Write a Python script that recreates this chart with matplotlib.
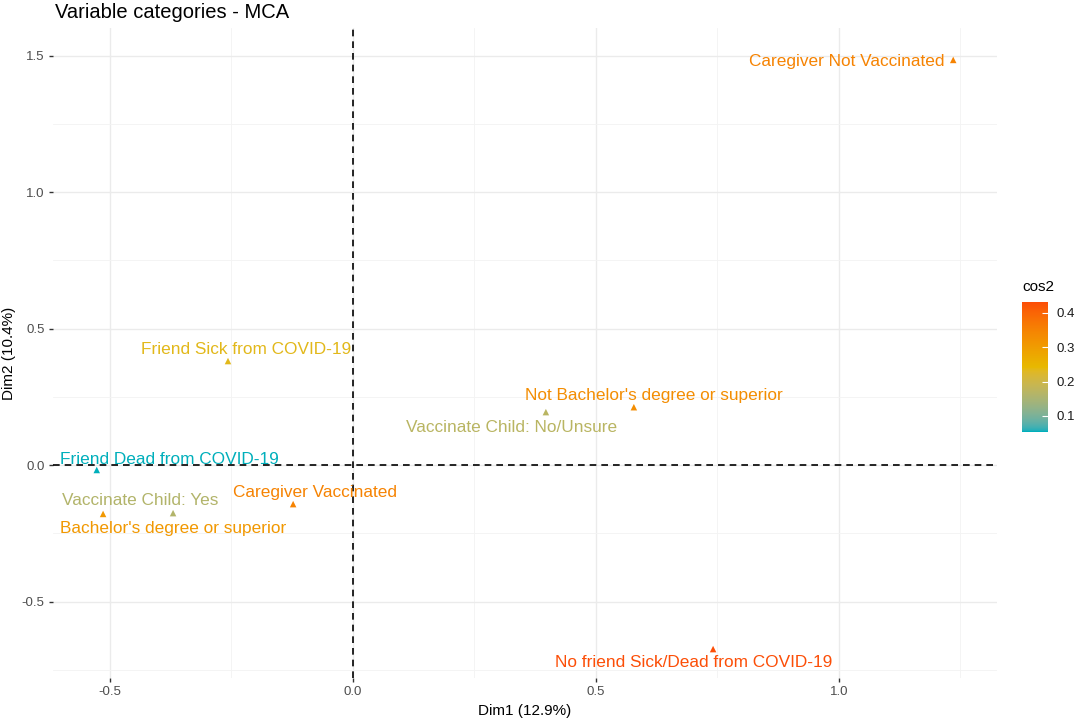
import numpy as np
import matplotlib.pyplot as plt
from matplotlib.colors import ListedColormap, Normalize, to_rgb
from matplotlib.ticker import MultipleLocator

plt.rcParams['font.family'] = ['Liberation Sans', 'DejaVu Sans']

# MCA variable categories
labels = ["Caregiver Not Vaccinated", "Friend Sick from COVID-19",
          "Not Bachelor's degree or superior", "Vaccinate Child: No/Unsure",
          "Friend Dead from COVID-19", "Vaccinate Child: Yes",
          "Bachelor's degree or superior", "Caregiver Vaccinated",
          "No friend Sick/Dead from COVID-19"]
dim1 = [1.235, -0.257, 0.578, 0.397, -0.527, -0.370, -0.514, -0.123, 0.741]
dim2 = [1.484, 0.381, 0.212, 0.194, -0.018, -0.176, -0.179, -0.143, -0.674]
cos2 = [0.35, 0.235, 0.33, 0.17, 0.053, 0.16, 0.31, 0.35, 0.432]

# repelled label offsets (dx, dy) from each point
label_dx = [-0.219, 0.037, 0.041, -0.070, 0.150, -0.068, 0.144, 0.045, -0.039]
label_dy = [-0.004, 0.044, 0.044, -0.055, 0.040, 0.048, -0.052, 0.044, -0.048]

gradient_cols = ['#00AFBB', '#E7B800', '#FC4E07']


# ggplot-like gradient: interpolate in Lab space
WHITE = np.array([0.95047, 1.0, 1.08883])
M = np.array([[0.4124, 0.3576, 0.1805],
              [0.2126, 0.7152, 0.0722],
              [0.0193, 0.1192, 0.9505]])


def to_lab(rgb):
    c = np.array(rgb)
    lin = np.where(c <= 0.04045, c / 12.92, ((c + 0.055) / 1.055) ** 2.4)
    xyz = M @ lin / WHITE
    f = np.where(xyz > 0.008856, np.cbrt(xyz), 7.787 * xyz + 16 / 116)
    return np.array([116 * f[1] - 16, 500 * (f[0] - f[1]), 200 * (f[1] - f[2])])


def from_lab(lab):
    fy = (lab[0] + 16) / 116
    f = np.array([fy + lab[1] / 500, fy, fy - lab[2] / 200])
    xyz = np.where(f ** 3 > 0.008856, f ** 3, (f - 16 / 116) / 7.787) * WHITE
    lin = np.linalg.solve(M, xyz)
    c = np.where(lin <= 0.0031308, 12.92 * lin, 1.055 * np.clip(lin, 0, None) ** (1 / 2.4) - 0.055)
    return np.clip(c, 0, 1)


labs = [to_lab(to_rgb(c)) for c in gradient_cols]
colors = []
for t in np.linspace(0, 1, 256):
    seg = min(int(t * 2), 1)
    u = t * 2 - seg
    colors.append(from_lab(labs[seg] * (1 - u) + labs[seg + 1] * u))
cmap = ListedColormap(colors)
norm = Normalize(vmin=min(cos2), vmax=max(cos2))

fig = plt.figure(figsize=(10.84, 7.23), dpi=100)
ax = fig.add_axes([0.0489, 0.0622, 0.8708, 0.8991])

ax.set_xlim(-0.617, 1.325)
ax.set_ylim(-0.780, 1.601)

ax.xaxis.set_major_locator(MultipleLocator(0.5))
ax.yaxis.set_major_locator(MultipleLocator(0.5))
ax.xaxis.set_minor_locator(MultipleLocator(0.25))
ax.yaxis.set_minor_locator(MultipleLocator(0.25))
ax.grid(which='major', color='#EBEBEB', linewidth=1.0)
ax.grid(which='minor', color='#F3F3F3', linewidth=0.6)
ax.set_axisbelow(True)
for s in ax.spines.values():
    s.set_visible(False)
ax.tick_params(which='major', length=3, width=1, color='#333333',
               labelsize=9.5, labelcolor='#4D4D4D', pad=3)
ax.tick_params(which='minor', length=0)
ax.xaxis.set_major_formatter(plt.FuncFormatter(lambda v, p: f"{v:.1f}"))
ax.yaxis.set_major_formatter(plt.FuncFormatter(lambda v, p: f"{v:.1f}"))

ax.axhline(0, color='black', linestyle=(0, (4, 3)), linewidth=1.2, zorder=1)
ax.axvline(0, color='black', linestyle=(0, (4, 3)), linewidth=1.2, zorder=1)

ax.scatter(dim1, dim2, c=cos2, cmap=cmap, norm=norm, marker='^', s=22,
           linewidths=0, zorder=3)

for i, lab in enumerate(labels):
    ax.text(dim1[i] + label_dx[i], dim2[i] + label_dy[i], lab,
            color=cmap(norm(cos2[i])), fontsize=12.4, ha='center', va='center',
            zorder=4)

ax.set_xlabel('Dim1 (12.9%)', fontsize=11, labelpad=4)
ax.set_ylabel('Dim2 (10.4%)', fontsize=11, labelpad=4)
fig.text(0.0507, 0.983, 'Variable categories - MCA', fontsize=14.5,
         ha='left', va='center')

cax = fig.add_axes([0.9428, 0.4025, 0.024, 0.1798])
sm = plt.cm.ScalarMappable(cmap=cmap, norm=norm)
cb = fig.colorbar(sm, cax=cax, ticks=[0.1, 0.2, 0.3, 0.4])
cb.outline.set_visible(False)
cb.ax.tick_params(length=4, width=0.8, color='white', direction='in',
                  labelsize=9.5, labelcolor='#1A1A1A', pad=6)
cb.ax.set_yticklabels(['0.1', '0.2', '0.3', '0.4'])
cax.set_title('cos2', fontsize=11, loc='left', pad=8)

fig.savefig('out.png', dpi=100)
